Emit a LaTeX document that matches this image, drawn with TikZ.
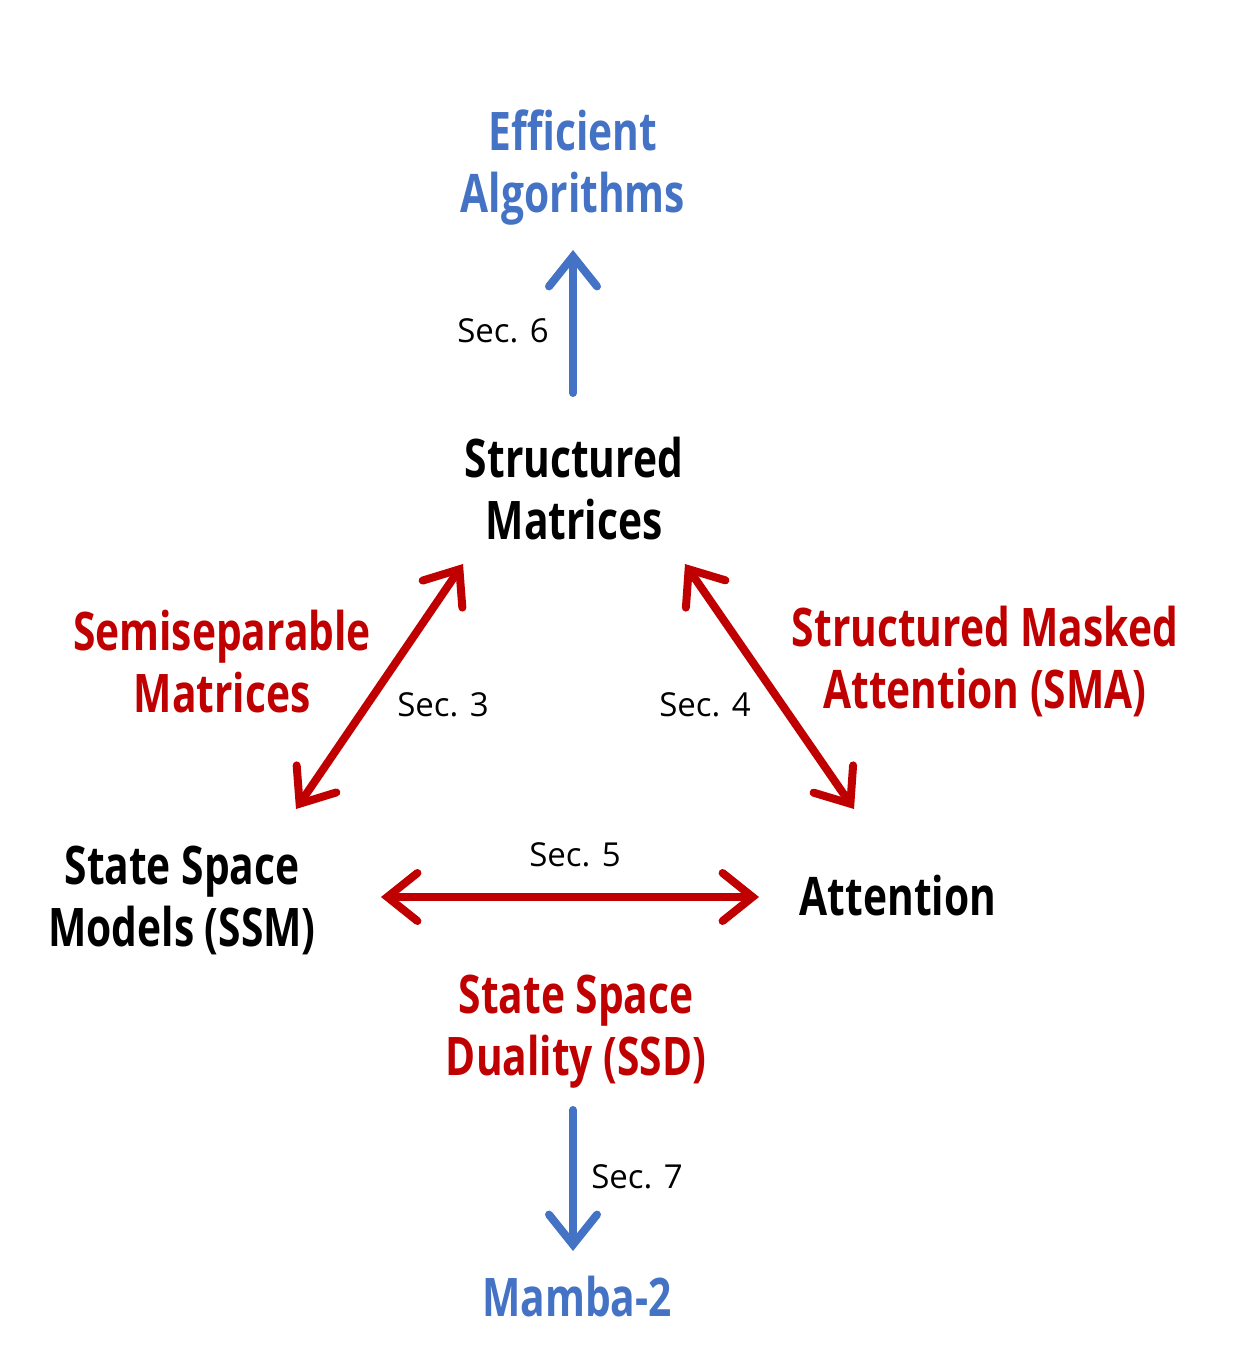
\documentclass[tikz,border=0pt]{standalone}
\usepackage{fontspec}
\setmainfont{Open Sans}
\newfontfamily\condbold[FakeStretch=0.765]{Open Sans}
\usetikzlibrary{arrows.meta}
\definecolor{myblue}{HTML}{4472C4}
\definecolor{myred}{HTML}{C00000}
\tikzset{
  big/.style={font=\condbold\bfseries\fontsize{26.6}{31}\selectfont, align=center, inner sep=0pt},
  seclabel/.style={font=\fontsize{16.5}{19}\selectfont, inner sep=0pt},
  conn/.style={line width=4pt, line cap=round, arrows={-Straight Barb[length=15pt,width=24pt,line cap=round,line width=4pt]}},
  biconn/.style={line width=4pt, line cap=round, arrows={Straight Barb[length=15pt,width=24pt,line cap=round,line width=4pt]-Straight Barb[length=15pt,width=24pt,line cap=round,line width=4pt]}}
}
\begin{document}
\begin{tikzpicture}[x=0.5pt,y=-0.5pt]
\useasboundingbox (0,0) rectangle (1248,1354);
\node[big, text=myblue] (ea) at (573,168) {Efficient\\Algorithms};
\node[big] (sm) at (574,489) {Structured\\Matrices};
\node[big, text=myred] (semi) at (222,662) {Semiseparable\\Matrices};
\node[big, text=myred] (sma) at (985,661) {Structured Masked\\Attention (SMA)};
\node[big] (ssm) at (182,900) {State Space\\Models (SSM)};
\node[big] (att) at (898,896) {Attention};
\node[big, text=myred] (ssd) at (576,1032) {State Space\\Duality (SSD)};
\node[big, text=myblue] (mamba) at (577,1297) {Mamba-2};

\coordinate (a6s) at (573,393); \coordinate (a6e) at (573,250);
\coordinate (a3s) at (463,564); \coordinate (a3e) at (296,809);
\coordinate (a4s) at (685,564); \coordinate (a4e) at (854,809);
\coordinate (a5s) at (381,897); \coordinate (a5e) at (759,897);
\coordinate (a7s) at (573,1110); \coordinate (a7e) at (573,1251);

\draw[conn, myblue] (a6s) -- (a6e);
\draw[biconn, myred] (a3s) -- (a3e);
\draw[biconn, myred] (a4s) -- (a4e);
\draw[biconn, myred] (a5s) -- (a5e);
\draw[conn, myblue] (a7s) -- (a7e);

\node[seclabel] (s6) at (503,331) {Sec. 6};
\node[seclabel] (s3) at (443,705) {Sec. 3};
\node[seclabel] (s4) at (705,705) {Sec. 4};
\node[seclabel] (s5) at (575,855) {Sec. 5};
\node[seclabel] (s7) at (637,1177) {Sec. 7};
\end{tikzpicture}
\end{document}
